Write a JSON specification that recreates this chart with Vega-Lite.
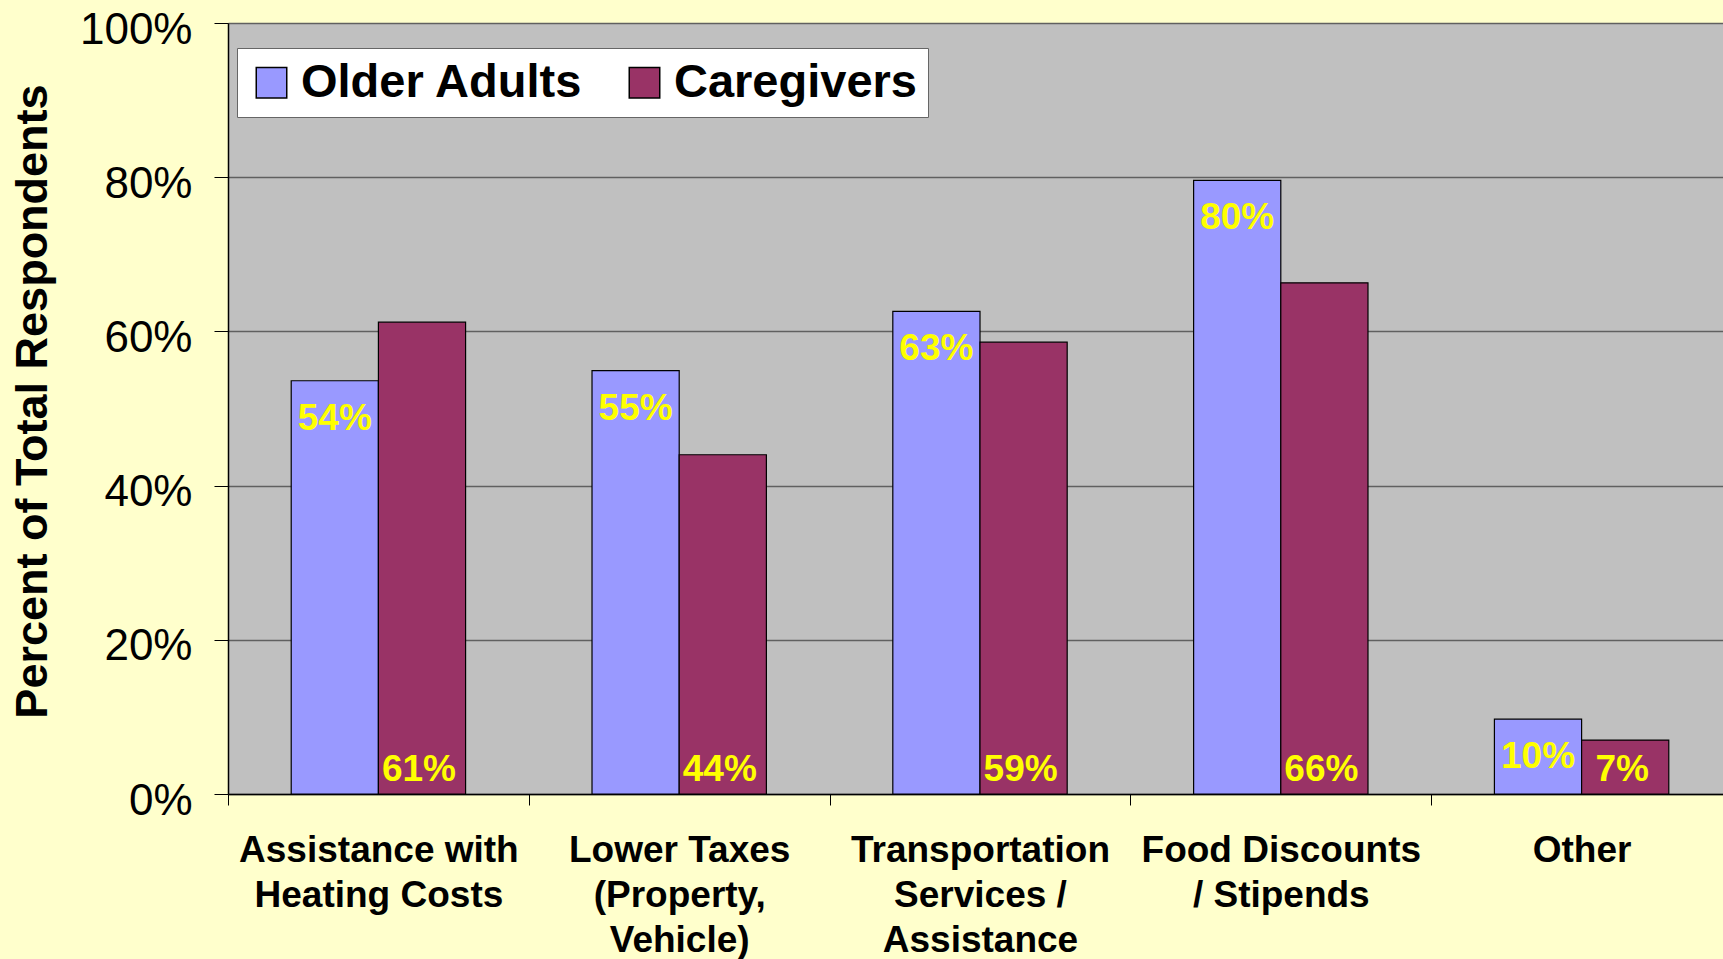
{
  "$schema": "https://vega.github.io/schema/vega-lite/v6.json",
  "width": 1495,
  "height": 771,
  "autosize": {"type": "none"},
  "padding": {"left": 228, "top": 23, "right": 0, "bottom": 165},
  "background": "#FFFFCC",
  "config": {
    "view": {"fill": "#C0C0C0", "stroke": "#8c8c8c", "strokeWidth": 1},
    "font": "Liberation Sans"
  },
  "data": {
    "values": [
      {"category": "Assistance with|Heating Costs", "group": "Older Adults", "value": 0.536},
      {"category": "Assistance with|Heating Costs", "group": "Caregivers", "value": 0.612},
      {"category": "Lower Taxes|(Property,|Vehicle)", "group": "Older Adults", "value": 0.549},
      {"category": "Lower Taxes|(Property,|Vehicle)", "group": "Caregivers", "value": 0.44},
      {"category": "Transportation|Services /|Assistance", "group": "Older Adults", "value": 0.626},
      {"category": "Transportation|Services /|Assistance", "group": "Caregivers", "value": 0.586},
      {"category": "Food Discounts|/ Stipends", "group": "Older Adults", "value": 0.796},
      {"category": "Food Discounts|/ Stipends", "group": "Caregivers", "value": 0.663},
      {"category": "Other", "group": "Older Adults", "value": 0.097},
      {"category": "Other", "group": "Caregivers", "value": 0.07}
    ]
  },
  "encoding": {
    "x": {
      "field": "category",
      "type": "nominal",
      "sort": null,
      "title": null,
      "scale": {"range": [0, 1504], "paddingInner": 0, "paddingOuter": 0},
      "axis": {
        "labelAngle": 0,
        "labelFontSize": 37,
        "labelFontWeight": "bold",
        "labelColor": "black",
        "labelLineHeight": 45,
        "labelExpr": "split(datum.label, '|')",
        "labelPadding": 27,
        "labelLimit": 500,
        "labelBaseline": "top",
        "tickBand": "extent",
        "ticks": true,
        "tickSize": 11,
        "tickColor": "black",
        "tickWidth": 1,
        "domainColor": "black",
        "domainWidth": 1.5,
        "grid": false
      }
    },
    "xOffset": {
      "field": "group",
      "type": "nominal",
      "sort": ["Older Adults", "Caregivers"],
      "scale": {"domain": ["Older Adults", "Caregivers"], "paddingInner": 0, "paddingOuter": 0.725}
    },
    "y": {
      "field": "value",
      "type": "quantitative",
      "title": "Percent of Total Respondents",
      "scale": {"domain": [0, 1], "nice": false},
      "axis": {
        "values": [0, 0.2, 0.4, 0.6, 0.8, 1],
        "format": ".0%",
        "labelFontSize": 44,
        "labelColor": "black",
        "labelPadding": 22,
        "labelOffset": 7,
        "tickSize": 14,
        "tickColor": "black",
        "domainColor": "black",
        "domainWidth": 1.5,
        "grid": true,
        "gridColor": "#606060",
        "gridWidth": 1.3,
        "titleFontSize": 45,
        "titleFontWeight": "bold",
        "titleColor": "black",
        "titlePadding": 24,
        "titleY": 378
      }
    }
  },
  "layer": [
    {
      "mark": {"type": "bar", "stroke": "black", "strokeWidth": 1.2},
      "encoding": {
        "color": {
          "field": "group",
          "type": "nominal",
          "scale": {"domain": ["Older Adults", "Caregivers"], "range": ["#9999FF", "#993366"]},
          "legend": {
            "title": null,
            "orient": "none",
            "legendX": 9,
            "legendY": 25,
            "direction": "horizontal",
            "gridAlign": "all",
            "fillColor": "white",
            "strokeColor": "#666666",
            "padding": 11,
            "symbolType": "square",
            "symbolSize": 930,
            "symbolStrokeColor": "black",
            "symbolStrokeWidth": 1.5,
            "symbolOpacity": 1,
            "labelFontSize": 47,
            "labelFontWeight": "bold",
            "labelColor": "black",
            "labelOffset": 6,
            "labelLimit": 500,
            "labelExpr": "datum.label === 'Caregivers' ? 'Caregivers\u00a0\u00a0' : datum.label",
            "columnPadding": 37
          }
        }
      }
    },
    {
      "transform": [{"filter": "datum.group === 'Older Adults'"}],
      "mark": {"type": "text", "baseline": "alphabetic", "dy": 49, "fontSize": 37, "fontWeight": "bold", "color": "#FFFF00"},
      "encoding": {
        "text": {"field": "value", "type": "quantitative", "format": ".0%"}
      }
    },
    {
      "transform": [{"filter": "datum.group === 'Caregivers'"}],
      "mark": {"type": "text", "baseline": "alphabetic", "dy": -13, "dx": -3, "fontSize": 37, "fontWeight": "bold", "color": "#FFFF00"},
      "encoding": {
        "y": {"datum": 0, "type": "quantitative"},
        "text": {"field": "value", "type": "quantitative", "format": ".0%"}
      }
    }
  ]
}
